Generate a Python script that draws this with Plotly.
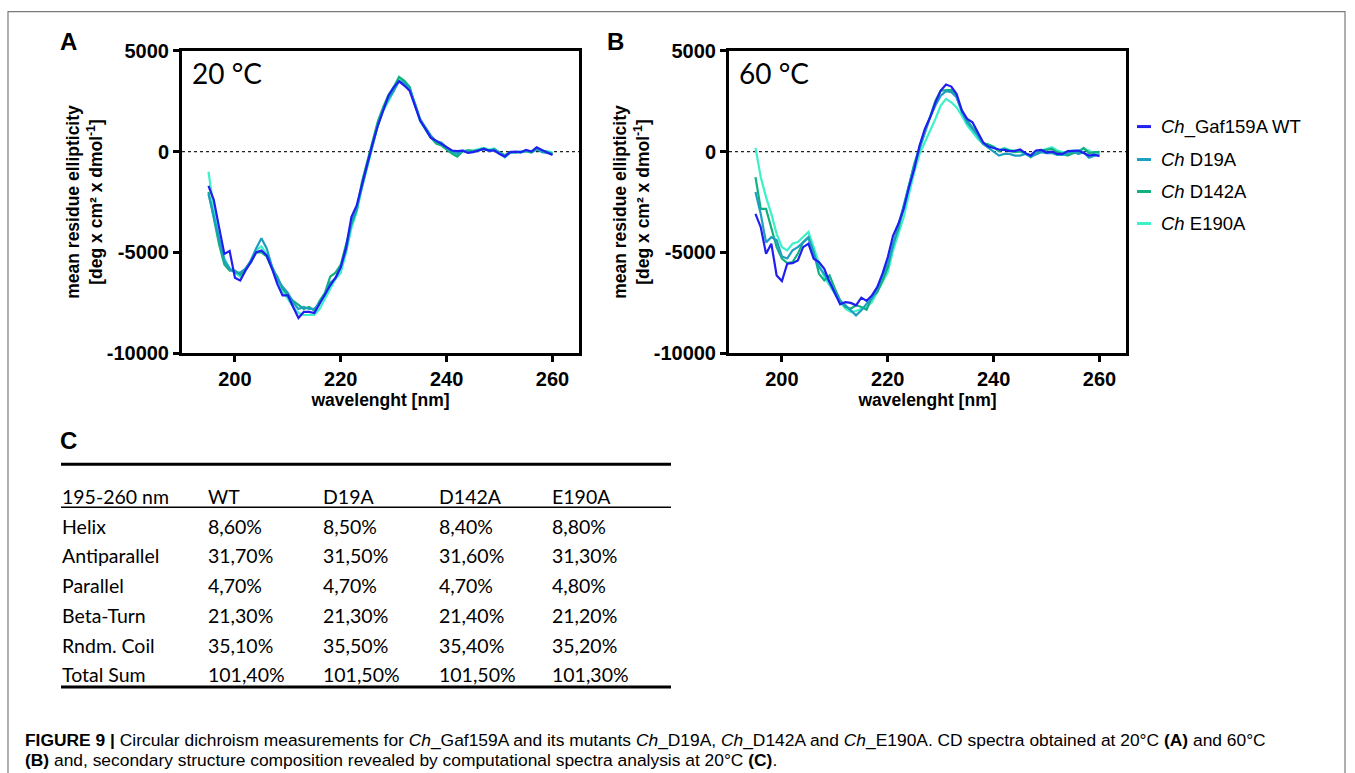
import plotly.graph_objects as go

W, H = 1355, 773

wavelength = [195, 196, 197, 198, 199, 200, 201, 202, 203, 204, 205, 206, 207, 208, 209, 210,
              211, 212, 213, 214, 215, 216, 217, 218, 219, 220, 221, 222, 223, 224, 225, 226,
              227, 228, 229, 230, 231, 232, 233, 234, 235, 236, 237, 238, 239, 240, 241, 242,
              243, 244, 245, 246, 247, 248, 249, 250, 251, 252, 253, 254, 255, 256, 257, 258,
              259, 260]

series_names = ["<i>Ch</i>_Gaf159A WT", "<i>Ch</i> D19A", "<i>Ch</i> D142A", "<i>Ch</i> E190A"]
series_colors = ["#1f1ff0", "#1d9fc2", "#12b07e", "#3cf0c8"]

# Panel A: 20 degC
a_wt = [-1700, -2390, -3750, -5070, -4930, -6250, -6390, -5890, -5480, -5000, -4900, -5150,
        -5800, -6550, -7130, -7130, -7700, -8250, -7950, -7950, -8000, -7540, -7130, -6630,
        -6250, -5730, -4740, -3250, -2670, -1600, -610, 380, 1290, 2030, 2770, 3180, 3480,
        3270, 3020, 2280, 1530, 1120, 680, 540, 380, 210, 50, 20, 50, -70, -30, 50, 130, 50,
        50, -120, -250, -30, 0, -30, 80, 0, 210, 80, -30, -170]
a_d19a = [-2100, -3200, -4400, -5400, -5800, -6000, -6000, -5800, -5400, -4800, -4300, -4800,
          -5700, -6300, -6700, -7000, -7500, -7800, -7700, -7800, -7800, -7500, -7100, -6500,
          -6300, -5700, -4900, -3500, -2800, -1700, -700, 300, 1300, 2100, 2600, 3000, 3500,
          3400, 3100, 2400, 1600, 1200, 800, 500, 450, 200, 0, -100, 50, 0, -20, 60, 120, 50,
          100, -50, -200, -60, -30, -50, 40, -20, 120, -30, -60, -120]
a_d142a = [-2000, -3300, -4600, -5600, -5900, -5900, -6100, -5800, -5500, -5000, -5000, -5200,
           -5800, -6200, -6800, -7100, -7400, -7600, -7800, -7700, -7900, -7400, -7000, -6200,
           -6000, -5600, -4600, -3600, -2900, -1500, -500, 500, 1500, 2200, 2800, 3200, 3700,
           3500, 3200, 2300, 1600, 1100, 700, 400, 300, 100, -100, -250, 0, 60, 30, 60, 150,
           30, 100, -40, -180, -20, -40, -10, 20, -50, 100, 30, -20, -100]
a_e190a = [-1000, -2800, -4300, -5300, -5800, -6000, -6200, -5900, -5400, -4900, -4700, -5100,
           -5700, -6300, -6900, -7300, -7700, -8000, -8100, -8100, -8100, -7800, -7300, -6800,
           -6300, -6000, -5000, -3800, -3000, -1800, -800, 300, 1300, 2000, 2500, 3000, 3600,
           3500, 3200, 2300, 1500, 1100, 700, 450, 350, 150, -50, -150, 0, 60, 40, 120, 180,
           100, 150, -80, -300, -60, -40, -20, 30, -30, 130, 20, 20, -50]

# Panel B: 60 degC
b_wt = [-3090, -3750, -5070, -4570, -6140, -6420, -5560, -5530, -5400, -4740, -4570, -5310,
        -5480, -5810, -6470, -7050, -7570, -7460, -7500, -7620, -7240, -7400, -7130, -6720,
        -6050, -5230, -4160, -3580, -2840, -1770, -860, 300, 1120, 1700, 2440, 3020, 3320,
        3220, 2850, 2030, 1620, 1450, 960, 460, 250, 170, 100, 80, 20, 30, 100, -80, -200,
        50, 80, -50, 0, -120, -120, 20, 50, 50, -70, -200, -150, -230]
b_d19a = [-2000, -3100, -4500, -4240, -4400, -5200, -5300, -4900, -4740, -4490, -4270, -5070,
          -5730, -6060, -6470, -6960, -7400, -7620, -7870, -8120, -7870, -7540, -7290, -6800,
          -6140, -5560, -4650, -3660, -2590, -1600, -690, 130, 870, 1700, 2280, 2770, 2990,
          2940, 2690, 1950, 1450, 1120, 790, 380, 210, 0, -200, -120, -120, -200, -200, -120,
          -250, -120, -30, -80, -70, -170, -170, -80, 20, -120, -30, -310, -200, -120]
b_d142a = [-1270, -2840, -2840, -3750, -4740, -5310, -5530, -5480, -5070, -4490, -4240, -4980,
           -6060, -6390, -6140, -6800, -7370, -7700, -7790, -7620, -7700, -7840, -7210, -6960,
           -6390, -5730, -4570, -3830, -2760, -1770, -610, 210, 1040, 1730, 2520, 3020, 3050,
           3050, 2690, 2030, 1530, 1170, 870, 410, 350, 210, 20, 130, 50, -30, 20, -80, -280,
           -120, 50, 80, 130, -30, -120, -200, -80, -30, 180, -80, -30, -30]
b_e190a = [180, -1270, -2260, -3090, -4080, -4740, -4900, -4570, -4490, -4240, -3990, -4740,
           -5560, -6220, -6630, -7050, -7460, -7790, -7950, -7900, -7790, -7700, -7460, -6960,
           -6470, -5970, -4900, -4080, -3250, -2100, -1020, -120, 460, 960, 1620, 2280, 2610,
           2440, 2190, 1780, 1290, 960, 630, 380, 350, 250, 50, 180, 80, 50, -30, -120, -170,
           -30, 50, 130, 210, 50, -30, -30, 50, 50, 130, 50, -120, 20]

x_tickvals = [200, 220, 240, 260]
y_tickvals = [5000, 0, -5000, -10000]
y_ticktext = ["5000", "0", "-5000", "-10000"]

table_header = ["195-260 nm", "WT", "D19A", "D142A", "E190A"]
table_rows = [
    ["Helix", "8,60%", "8,50%", "8,40%", "8,80%"],
    ["Antiparallel", "31,70%", "31,50%", "31,60%", "31,30%"],
    ["Parallel", "4,70%", "4,70%", "4,70%", "4,80%"],
    ["Beta-Turn", "21,30%", "21,30%", "21,40%", "21,20%"],
    ["Rndm. Coil", "35,10%", "35,50%", "35,40%", "35,20%"],
    ["Total Sum", "101,40%", "101,50%", "101,50%", "101,30%"],
]

# observed vertical mapping of the photographed page (out = OFF + SC * page_y)
OFF, SC = 10.3, 0.9726


def px(x):
    return x / W


def py(y):
    return 1 - ((y - OFF) / SC) / H


fig = go.Figure()

panels = [
    ("x", "y", [a_wt, a_d19a, a_d142a, a_e190a]),
    ("x2", "y2", [b_wt, b_d19a, b_d142a, b_e190a]),
]
for xa, ya, data in panels:
    # draw WT last so it sits on top
    for i in [3, 2, 1, 0]:
        fig.add_trace(go.Scatter(
            x=wavelength, y=data[i], mode="lines", name=series_names[i],
            line=dict(color=series_colors[i], width=2.2),
            xaxis=xa, yaxis=ya, showlegend=False, hoverinfo="x+y+name"))

tickfont = dict(family="Liberation Sans, Arial", size=20, color="black", weight="bold")
titlefont = dict(family="Liberation Sans, Arial", size=17.5, color="black", weight="bold")

x_common = dict(range=[190, 265], tickvals=x_tickvals, ticks="outside", ticklen=6,
                tickwidth=2.5, tickcolor="black", showline=True, linewidth=3,
                linecolor="black", mirror=True, showgrid=False, zeroline=False,
                tickfont=tickfont,
                title=dict(text="wavelenght [nm]", font=titlefont, standoff=2))
y_common = dict(range=[-10000, 5000], tickvals=y_tickvals, ticktext=y_ticktext,
                ticks="outside", ticklen=6, tickwidth=2.5, tickcolor="black",
                showline=True, linewidth=3, linecolor="black", mirror=True,
                showgrid=False, zeroline=False, tickfont=tickfont,
                title=dict(text="mean residue ellipticity<br>[deg x cm² x dmol<sup>-1</sup>]",
                           font=titlefont, standoff=0))

ytop, ybot = py(50), py(353)
fig.update_layout(
    width=W, height=H, margin=dict(l=0, r=0, t=0, b=0),
    paper_bgcolor="white", plot_bgcolor="white", showlegend=False,
    xaxis=dict(domain=[px(182), px(579)], anchor="y", **x_common),
    yaxis=dict(domain=[ybot, ytop], anchor="x", **y_common),
    xaxis2=dict(domain=[px(729), px(1126)], anchor="y2", **x_common),
    yaxis2=dict(domain=[ybot, ytop], anchor="x2", **y_common),
)

shapes = []
# dotted zero lines
for xr, yr in [("x", "y"), ("x2", "y2")]:
    shapes.append(dict(type="line", xref=xr, yref=yr, x0=190, x1=265, y0=0, y1=0,
                       line=dict(color="#222", width=1.2, dash="dot"), layer="below"))
# outer frame
shapes.append(dict(type="rect", xref="paper", yref="paper", x0=px(8), x1=px(1345),
                   y0=-0.2, y1=py(11), line=dict(color="#7a7a7a", width=1.2)))
# table rules
shapes.append(dict(type="line", xref="paper", yref="paper", x0=px(61), x1=px(671),
                   y0=py(464), y1=py(464), line=dict(color="black", width=3)))
shapes.append(dict(type="line", xref="paper", yref="paper", x0=px(61), x1=px(671),
                   y0=py(507), y1=py(507), line=dict(color="black", width=1.5)))
shapes.append(dict(type="line", xref="paper", yref="paper", x0=px(61), x1=px(671),
                   y0=py(687), y1=py(687), line=dict(color="black", width=3)))
# legend lines
leg_y = [126, 159, 191, 223]
for i, yy in enumerate(leg_y):
    shapes.append(dict(type="line", xref="paper", yref="paper", x0=px(1137), x1=px(1151),
                       y0=py(yy), y1=py(yy), line=dict(color=series_colors[i], width=3)))
fig.update_layout(shapes=shapes)

ann = []


def add_text(text, x, y, size, family="Liberation Sans, Arial", xanchor="left",
             yanchor="middle", weight="normal", color="black"):
    ann.append(dict(text=text, x=px(x), y=py(y), xref="paper", yref="paper",
                    xanchor=xanchor, yanchor=yanchor, showarrow=False,
                    font=dict(family=family, size=size, color=color, weight=weight)))


add_text("A", 58, 41, 24, weight="bold")
add_text("B", 605, 41, 24, weight="bold")
add_text("C", 58, 440, 24, weight="bold")
add_text("20 °C", 190, 72, 28, family="Lato, Open Sans")
add_text("60 °C", 737, 72, 28, family="Lato, Open Sans")

for i, yy in enumerate(leg_y):
    add_text(series_names[i], 1159, yy, 18.5)

col_x = [60, 206, 321, 437, 550]
row_y = [496, 526, 555, 585, 615, 645, 675]
for j, t in enumerate(table_header):
    add_text(t, col_x[j], row_y[0], 19.5, family="Lato, Open Sans")
for r, row in enumerate(table_rows):
    for j, t in enumerate(row):
        add_text(t, col_x[j], row_y[r + 1], 19.5, family="Lato, Open Sans")

cap1 = ("<b>FIGURE 9 |</b> Circular dichroism measurements for <i>Ch</i>_Gaf159A and its mutants "
        "<i>Ch</i>_D19A, <i>Ch</i>_D142A and <i>Ch</i>_E190A. CD spectra obtained at 20°C "
        "<b>(A)</b> and 60°C")
cap2 = ("<b>(B)</b> and, secondary structure composition revealed by computational spectra "
        "analysis at 20°C <b>(C)</b>.")
add_text(cap1, 23, 740, 17.4)
add_text(cap2, 23, 760, 17.4)

fig.update_layout(annotations=ann)
fig.write_html("out.html", config={"displayModeBar": False},
               post_script="document.body.style.margin='0';document.body.style.overflow='hidden';")
